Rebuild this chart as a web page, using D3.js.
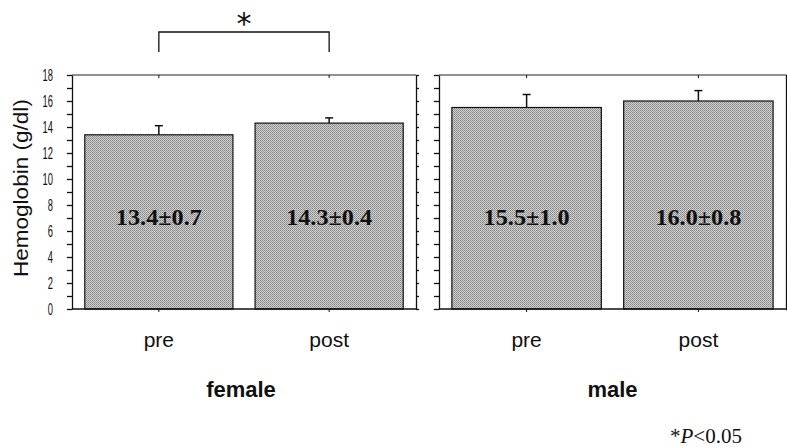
<!DOCTYPE html>
<html>
<head>
<meta charset="utf-8">
<script src="https://cdn.jsdelivr.net/npm/d3@7"></script>
<style>
	body { margin: 0; background: #fff; }
	svg { display: block; }
</style>
</head>
<body>
<script>
	const groups = ['female', 'male'];
	const phases = ['pre', 'post'];
	const means = [[13.4, 14.3], [15.5, 16.0]]; // g/dl, per group: pre, post
	const sds = [[0.7, 0.4], [1.0, 0.8]];
	const yTicks = [0, 2, 4, 6, 8, 10, 12, 14, 16, 18];

	const width = 787;
	const height = 448;

	const svg = d3.select('body')
		.append('svg')
		.attr('width', width)
		.attr('height', height);

	// stippled grey fill, like the scanned print
	const pat = svg.append('defs').append('pattern')
		.attr('id', 'dots')
		.attr('width', 2)
		.attr('height', 2)
		.attr('patternUnits', 'userSpaceOnUse');
	pat.append('rect').attr('width', 2).attr('height', 2).attr('fill', '#d0d0d0');
	pat.append('rect').attr('width', 1).attr('height', 1).attr('fill', '#858585');
	pat.append('rect').attr('x', 1).attr('y', 1).attr('width', 1).attr('height', 1).attr('fill', '#9a9a9a');

	const yScale = d3.scaleLinear()
		.domain([0, 18])
		.range([309, 75]);

	const panels = [[72, 416], [439, 786]]; // left and right edge of each panel

	panels.forEach(function(p, gi) {
		const xScale = d3.scaleBand()
			.domain(phases)
			.range(p)
			.paddingInner(0.13)
			.paddingOuter(0.075);

		const g = svg.append('g');

		// bars
		g.selectAll('rect.bar')
			.data(phases)
			.enter()
			.append('rect')
			.attr('class', 'bar')
			.attr('x', function(d) { return xScale(d); })
			.attr('y', function(d, i) { return yScale(means[gi][i]); })
			.attr('width', xScale.bandwidth())
			.attr('height', function(d, i) { return yScale(0) - yScale(means[gi][i]); })
			.attr('fill', 'url(#dots)')
			.attr('stroke', '#111')
			.attr('stroke-width', 1.2);

		// upper error bars only
		phases.forEach(function(d, i) {
			const cx = xScale(d) + xScale.bandwidth() / 2;
			const top = yScale(means[gi][i] + sds[gi][i]);
			g.append('line')
				.attr('x1', cx).attr('x2', cx)
				.attr('y1', yScale(means[gi][i])).attr('y2', top)
				.attr('stroke', '#111').attr('stroke-width', 1.5);
			g.append('line')
				.attr('x1', cx - 4).attr('x2', cx + 4)
				.attr('y1', top).attr('y2', top)
				.attr('stroke', '#111').attr('stroke-width', 1.5);

			g.append('text')
				.attr('x', cx)
				.attr('y', yScale(6.45))
				.attr('text-anchor', 'middle')
				.attr('font-family', '"Liberation Serif", "Times New Roman", serif')
				.attr('font-weight', 'bold')
				.attr('font-size', 23)
				.attr('textLength', 86)
				.attr('lengthAdjust', 'spacingAndGlyphs')
				.attr('fill', '#111')
				.text(means[gi][i].toFixed(1) + '\u00b1' + sds[gi][i].toFixed(1));

			g.append('text')
				.attr('x', cx)
				.attr('y', 347)
				.attr('text-anchor', 'middle')
				.attr('font-family', '"Liberation Sans", Arial, sans-serif')
				.attr('font-size', 21)
				.attr('fill', '#111')
				.text(d);

			// little tick marks at bar centres, top and bottom
			g.append('line').attr('x1', cx).attr('x2', cx).attr('y1', yScale(18)).attr('y2', yScale(18) + 3).attr('stroke', '#111');
			g.append('line').attr('x1', cx).attr('x2', cx).attr('y1', yScale(0)).attr('y2', yScale(0) + 3).attr('stroke', '#111');
		});

		// frame
		g.append('line').attr('x1', p[0]).attr('x2', p[1]).attr('y1', yScale(18)).attr('y2', yScale(18)).attr('stroke', '#222').attr('stroke-width', 1.2);
		g.append('line').attr('x1', p[0]).attr('x2', p[1]).attr('y1', yScale(0)).attr('y2', yScale(0)).attr('stroke', '#111').attr('stroke-width', 1.5);

		// left axis (labels only on the first panel), right axis ticks outward
		const leftAxis = d3.axisLeft(yScale)
			.tickValues(d3.range(0, 19, 1))
			.tickSize(5)
			.tickSizeOuter(0)
			.tickFormat(function(v) { return (gi === 0 && yTicks.indexOf(v) >= 0) ? v : ''; });
		const la = g.append('g')
			.attr('transform', 'translate(' + p[0] + ',0)')
			.call(leftAxis);
		// narrow, tall digits as in the print
		la.selectAll('text')
			.attr('x', 0)
			.attr('transform', 'translate(-19,0) scale(0.55,1)')
			.attr('font-family', '"Liberation Sans", Arial, sans-serif')
			.attr('font-size', 17)
			.attr('fill', '#111');
		la.selectAll('line, path').attr('stroke', '#111').attr('stroke-width', 1.3);

		const ra = g.append('g')
			.attr('transform', 'translate(' + p[1] + ',0)')
			.call(d3.axisRight(yScale).tickValues(d3.range(0, 19, 1)).tickSize(3).tickSizeOuter(0).tickFormat(''));
		ra.selectAll('line, path').attr('stroke', '#111').attr('stroke-width', 1.3);

		svg.append('text')
			.attr('x', (p[0] + p[1]) / 2 + (gi === 0 ? -3 : 0))
			.attr('y', 397)
			.attr('text-anchor', 'middle')
			.attr('font-family', '"Liberation Sans", Arial, sans-serif')
			.attr('font-weight', 'bold')
			.attr('font-size', 22)
			.attr('fill', '#111')
			.text(groups[gi]);
	});

	// y title
	svg.append('text')
		.attr('transform', 'translate(28,' + yScale(9.3) + ') rotate(-90)')
		.attr('text-anchor', 'middle')
		.attr('font-family', '"Liberation Sans", Arial, sans-serif')
		.attr('font-size', 21)
		.attr('textLength', 178)
		.attr('lengthAdjust', 'spacingAndGlyphs')
		.attr('fill', '#111')
		.text('Hemoglobin (g/dl)');

	// significance bracket between female pre and post
	const bx = d3.scaleBand().domain(phases).range(panels[0]).paddingInner(0.13).paddingOuter(0.075);
	const b1 = bx('pre') + bx.bandwidth() / 2;
	const b2 = bx('post') + bx.bandwidth() / 2;
	svg.append('path')
		.attr('d', 'M' + b1 + ',52V32H' + b2 + 'V52')
		.attr('fill', 'none')
		.attr('stroke', '#111')
		.attr('stroke-width', 1.3);
	svg.append('text')
		.attr('x', (b1 + b2) / 2)
		.attr('y', 34)
		.attr('text-anchor', 'middle')
		.attr('font-family', '"DejaVu Sans", sans-serif')
		.attr('font-size', 30)
		.attr('fill', '#111')
		.text('*');

	const note = svg.append('text')
		.attr('x', 670)
		.attr('y', 443)
		.attr('font-family', '"Liberation Serif", "Times New Roman", serif')
		.attr('font-size', 21)
		.attr('fill', '#111');
	note.append('tspan').text('*');
	note.append('tspan').attr('font-style', 'italic').text('P');
	note.append('tspan').text('<0.05');
</script>
</body>
</html>
